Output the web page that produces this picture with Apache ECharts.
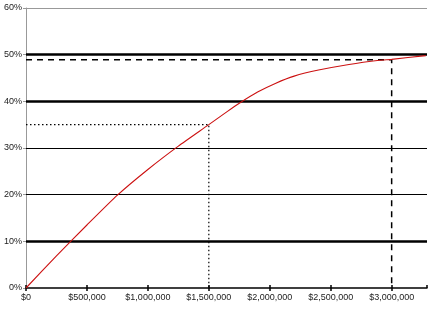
<!DOCTYPE html>
<html><head><meta charset="utf-8">
<script src="https://cdn.jsdelivr.net/npm/echarts@6/dist/echarts.min.js"></script>
<style>html,body{margin:0;padding:0;background:#fff}#c{width:431px;height:310px}</style>
</head><body><div id="c"></div>
<script>
const xValues = [0, 250000, 500000, 750000, 1000000, 1250000, 1500000, 1650000, 1750000, 1900000, 2050000, 2200000, 2400000, 2650000, 2900000, 3000000, 3280000];
const yValues = [0, 0.069, 0.135, 0.199, 0.254, 0.304, 0.35, 0.378, 0.396, 0.420, 0.439, 0.454, 0.467, 0.479, 0.488, 0.490, 0.498];
const xTicks = [0, 500000, 1000000, 1500000, 2000000, 2500000, 3000000];
const yTicks = [0, 0.1, 0.2, 0.3, 0.4, 0.5, 0.6];
const thickLines = [0.1, 0.4, 0.5];
const thinLines = [0.2, 0.3];
const dashedPoint = [3000000, 0.489];
const dottedPoint = [1500000, 0.35];
const xMax = 3290000;

const font = 'Liberation Sans';
const chart = echarts.init(document.getElementById('c'));
const gridMarks = [];
thickLines.forEach(v => gridMarks.push({yAxis: v, lineStyle: {color: '#000', width: 2.5, type: 'solid'}}));
thinLines.forEach(v => gridMarks.push({yAxis: v, lineStyle: {color: '#000', width: 1.2, type: 'solid'}}));
gridMarks.push({yAxis: 0.6, lineStyle: {color: '#999', width: 1, type: 'solid'}});

chart.setOption({
  animation: false,
  grid: {left: 26, right: 4, top: 8, bottom: 22, containLabel: false},
  xAxis: [{
    type: 'value', min: 0, max: xMax, interval: 500000,
    axisLine: {show: true, lineStyle: {color: '#000', width: 1.5}},
    axisTick: {show: true, length: 3, lineStyle: {color: '#000', width: 1.5}},
    axisLabel: {fontFamily: font, fontSize: 9, color: '#222', margin: 5, showMaxLabel: false,
      formatter: v => '$' + v.toLocaleString('en-US')},
    splitLine: {show: false}
  }, {
    type: 'value', min: 0, max: xMax, interval: 500000, position: 'bottom',
    axisLine: {show: false}, axisLabel: {show: false},
    axisTick: {show: true, inside: true, length: 3, lineStyle: {color: '#000', width: 1.5}},
    splitLine: {show: false}
  }],
  yAxis: {
    type: 'value', min: 0, max: 0.6, interval: 0.1,
    axisLine: {show: true, lineStyle: {color: '#999', width: 1}},
    axisTick: {show: true, length: 3, lineStyle: {color: '#999'}},
    axisLabel: {fontFamily: font, fontSize: 9, color: '#222', margin: 4,
      formatter: v => Math.round(v * 100) + '%'},
    splitLine: {show: false}
  },
  series: [{
    type: 'line', data: [], z: 1, markLine: {silent: true, symbol: 'none', label: {show: false}, data: gridMarks}
  }, {
    type: 'line', symbol: 'none', z: 2,
    data: [[0, dashedPoint[1]], dashedPoint, [dashedPoint[0], 0]],
    lineStyle: {color: '#000', width: 1.5, type: [6, 5]}
  }, {
    type: 'line', symbol: 'none', z: 2,
    data: [[0, dottedPoint[1]], dottedPoint, [dottedPoint[0], 0]],
    lineStyle: {color: '#000', width: 1.2, type: [1.5, 2.5]}
  }, {
    type: 'line', symbol: 'none', smooth: 0.2, z: 5, color: '#cc1111',
    data: xValues.map((x, i) => [x, yValues[i]]),
    itemStyle: {color: '#cc1111'},
    lineStyle: {color: '#cc1111', width: 1.1, type: 'solid'}
  }]
});
</script></body></html>
